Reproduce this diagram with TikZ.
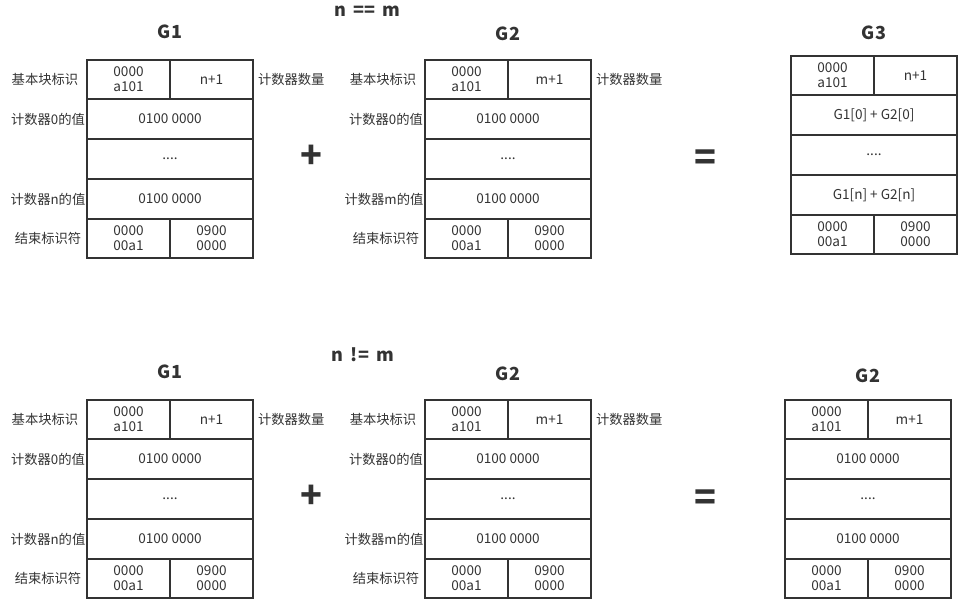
\documentclass[tikz,border=0pt]{standalone}
\usepackage{fontspec}
\setmainfont{Noto Sans CJK SC}
\definecolor{ink}{HTML}{333333}

\begin{document}
\begin{tikzpicture}[x=1pt,y=-1pt,inner sep=0pt,outer sep=0pt,
half/.style={draw=ink,line width=1.8pt,minimum width=83pt,minimum height=39.5pt,align=center,text=ink,font=\fontsize{13.6}{15}\selectfont},
full/.style={half,minimum width=166pt},
side/.style={text=ink,font=\fontsize{13.3}{15}\selectfont},
title/.style={text=ink,font=\fontsize{18}{20}\selectfont\bfseries},
op/.style={text=ink,font=\fontsize{36}{36}\selectfont\bfseries}]

\useasboundingbox (0,0) rectangle (969,606);

% the two summands, once per case
\foreach \r/\dy in {a/0,b/340} {
\begin{scope}[shift={(0,\dy)}]
\draw (170,32) node[title] (g1t\r) {G1};
\draw (128.5,79.5) node[half] (g1id\r) {0000\\a101};
\draw (211.5,79.5) node[half] (g1cnt\r) {n+1};
\draw (170,119) node[full] (g1v0\r) {0100 0000};
\draw (170,159) node[full] (g1dots\r) {....};
\draw (170,199) node[full] (g1vn\r) {0100 0000};
\draw (128.5,238.5) node[half] (g1ea\r) {0000\\00a1};
\draw (211.5,238.5) node[half] (g1eb\r) {0900\\0000};
\draw (45,79) node[side] (g1lid\r) {基本块标识};
\draw (48,119) node[side] (g1lv0\r) {计数器0的值};
\draw (48,199) node[side] (g1lvn\r) {计数器n的值};
\draw (48,238) node[side] (g1lend\r) {结束标识符};
\draw (258,79) node[side,anchor=west] (g1lcnt\r) {计数器数量};

\draw (311,157) node[op] (plus\r) {+};

\draw (508,34) node[title] (g2t\r) {G2};
\draw (466.5,79.5) node[half] (g2id\r) {0000\\a101};
\draw (549.5,79.5) node[half] (g2cnt\r) {m+1};
\draw (508,119) node[full] (g2v0\r) {0100 0000};
\draw (508,159) node[full] (g2dots\r) {....};
\draw (508,199) node[full] (g2vm\r) {0100 0000};
\draw (466.5,238.5) node[half] (g2ea\r) {0000\\00a1};
\draw (549.5,238.5) node[half] (g2eb\r) {0900\\0000};
\draw (383,79) node[side] (g2lid\r) {基本块标识};
\draw (386,119) node[side] (g2lv0\r) {计数器0的值};
\draw (384,199) node[side] (g2lvm\r) {计数器m的值};
\draw (386,238) node[side] (g2lend\r) {结束标识符};
\draw (596,79) node[side,anchor=west] (g2lcnt\r) {计数器数量};

\draw (705,160) node[op] (eq\r) {=};
\end{scope}
}

\draw (367,11) node[title] (caseeq) {n\hspace{0.4em}==\hspace{0.4em}m};
\draw (363,355) node[title] (caseneq) {n\hspace{0.4em}!=\hspace{0.4em}m};

% result when n == m
\draw (874,33) node[title] (g3t) {G3};
\draw (832.5,75.5) node[half] (g3id) {0000\\a101};
\draw (915.5,75.5) node[half] (g3cnt) {n+1};
\draw (874,115) node[full] (g3v0) {G1[0] + G2[0]};
\draw (874,155) node[full] (g3dots) {....};
\draw (874,195) node[full] (g3vn) {G1[n] + G2[n]};
\draw (832.5,234.5) node[half] (g3ea) {0000\\00a1};
\draw (915.5,234.5) node[half] (g3eb) {0900\\0000};

% result when n != m
\draw (868,376) node[title] (rt) {G2};
\draw (826.5,419.5) node[half] (rid) {0000\\a101};
\draw (909.5,419.5) node[half] (rcnt) {m+1};
\draw (868,459) node[full] (rv0) {0100 0000};
\draw (868,499) node[full] (rdots) {....};
\draw (868,539) node[full] (rvm) {0100 0000};
\draw (826.5,578.5) node[half] (rea) {0000\\00a1};
\draw (909.5,578.5) node[half] (reb) {0900\\0000};

\end{tikzpicture}
\end{document}
